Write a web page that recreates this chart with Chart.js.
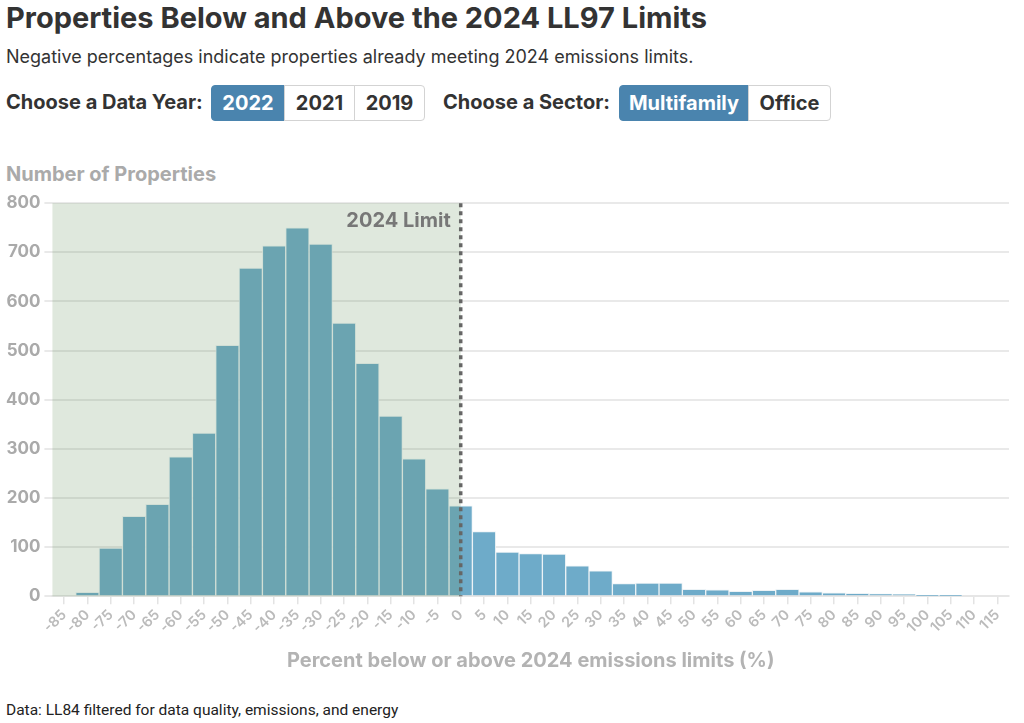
<!DOCTYPE html>
<html>
<head>
<meta charset="utf-8">
<script src="https://cdn.jsdelivr.net/npm/chart.js@4.4.1/dist/chart.umd.min.js"></script>
<style>
  body { margin: 0; background: #fff; font-family: Inter, sans-serif; color: #333; }
  .wrap { position: relative; width: 1024px; height: 723px; overflow: hidden; }
  h1 { position: absolute; left: 6px; top: 0px; margin: 0; font-size: 29px; font-weight: 700; color: #333; white-space: nowrap; }
  .sub { position: absolute; left: 6px; top: 46px; font-size: 18px; color: #333; white-space: nowrap; }
  .lbl { position: absolute; top: 90px; font-size: 20px; font-weight: 700; color: #333; white-space: nowrap; }
  .btn { position: absolute; top: 85px; height: 34px; line-height: 34px; text-align: center; font-size: 20px; font-weight: 700;
         color: #333; background: #fff; border: 1px solid #d3d3d3; box-sizing: content-box; }
  .btn.on { background: #4a84ae; color: #fff; border-color: #4a84ae; }
  .left { border-radius: 4px 0 0 4px; }
  .right { border-radius: 0 4px 4px 0; }
  .ytitle { position: absolute; left: 6px; top: 162px; font-size: 20px; font-weight: 700; color: #aaa; white-space: nowrap; }
  .foot { position: absolute; left: 6px; top: 701px; font-family: Roboto, sans-serif; font-size: 15.5px; color: #222; white-space: nowrap; }
  #box { position: absolute; left: 0; top: 189px; width: 1024px; height: 488px; }
</style>
</head>
<body>
<div class="wrap">
  <h1>Properties Below and Above the 2024 LL97 Limits</h1>
  <div class="sub">Negative percentages indicate properties already meeting 2024 emissions limits.</div>

  <div class="lbl" style="left:6px">Choose a Data Year:</div>
  <div class="btn on left" style="left:211px;width:72px">2022</div>
  <div class="btn" style="left:284px;width:69px">2021</div>
  <div class="btn right" style="left:354px;width:69px">2019</div>

  <div class="lbl" style="left:443px">Choose a Sector:</div>
  <div class="btn on left" style="left:619px;width:128px">Multifamily</div>
  <div class="btn right" style="left:748px;width:81px">Office</div>

  <div class="ytitle">Number of Properties</div>
  <div id="box"><canvas id="histChart"></canvas></div>
  <div class="foot">Data: LL84 filtered for data quality, emissions, and energy</div>
</div>

<script>
// bins (percent below/above 2024 limit)
const bins = [-85, -80, -75, -70, -65, -60, -55, -50, -45, -40, -35, -30, -25, -20, -15, -10, -5,
              0, 5, 10, 15, 20, 25, 30, 35, 40, 45, 50, 55, 60, 65, 70, 75, 80, 85, 90, 95, 100, 105, 110, 115];
// number of multifamily properties, 2022
const counts = [0, 8, 98, 163, 187, 284, 332, 511, 668, 713, 750, 717, 556, 474, 367, 280, 219,
                184, 132, 90, 87, 86, 62, 52, 26, 27, 27, 14, 13, 10, 12, 14, 9, 7, 6, 5, 4, 1, 1, 0, 0];
const limitBin = 0;
const limitLabel = '2024 Limit';

// green shade for the "below limit" side + dotted limit line
const limitPlugin = {
    id: 'limitPlugin',
    afterDatasetsDraw(chart) {
        const ctx = chart.ctx;
        const area = chart.chartArea;
        const x = chart.scales.x.getPixelForValue(bins.indexOf(limitBin));
        ctx.save();
        ctx.fillStyle = 'rgba(95,140,85,0.2)';
        ctx.fillRect(area.left, area.top, x - area.left, area.bottom - area.top);
        ctx.strokeStyle = '#666';
        ctx.lineWidth = 3.5;
        ctx.setLineDash([4, 4]);
        ctx.beginPath();
        ctx.moveTo(x, area.top);
        ctx.lineTo(x, area.bottom);
        ctx.stroke();
        ctx.setLineDash([]);
        ctx.fillStyle = '#777';
        ctx.font = 'bold 20px Inter';
        ctx.textAlign = 'right';
        ctx.textBaseline = 'alphabetic';
        ctx.fillText(limitLabel, x - 10, area.top + 24);
        ctx.restore();
    }
};

const ctx = document.getElementById('histChart').getContext('2d');
new Chart(ctx, {
    type: 'bar',
    data: {
        labels: bins,
        datasets: [{
            label: 'Properties',
            data: counts,
            backgroundColor: 'rgb(110,171,201)',
            borderColor: 'rgba(235,242,245,0.9)',
            borderWidth: 1,
            barPercentage: 1,
            categoryPercentage: 1
        }]
    },
    options: {
        responsive: true,
        maintainAspectRatio: false,
        animation: false,
        layout: { padding: { left: 2, right: 15, top: 10, bottom: 0 } },
        plugins: { legend: { display: false }, tooltip: { enabled: false } },
        scales: {
            x: {
                offset: true,
                grid: { display: true, drawOnChartArea: false, offset: false, color: '#e3e3e3', lineWidth: 1.5, tickLength: 8 },
                border: { display: true, color: '#e6e6e6', width: 2 },
                ticks: { color: '#bbb', font: { family: 'Inter', size: 14.5, weight: '600' }, minRotation: 45, maxRotation: 45, padding: 2, autoSkip: false },
                title: { display: true, text: 'Percent below or above 2024 emissions limits (%)', color: '#b3b3b3',
                         font: { family: 'Inter', size: 20, weight: 'bold' }, padding: { top: 10 } }
            },
            y: {
                min: 0,
                max: 800,
                ticks: { stepSize: 100, color: '#aaa', font: { family: 'Inter', size: 17, weight: 'bold' }, padding: 4 },
                grid: { color: '#e9e9e9', lineWidth: 2, tickLength: 8 },
                border: { display: false }
            }
        }
    },
    plugins: [limitPlugin]
});
</script>
</body>
</html>
